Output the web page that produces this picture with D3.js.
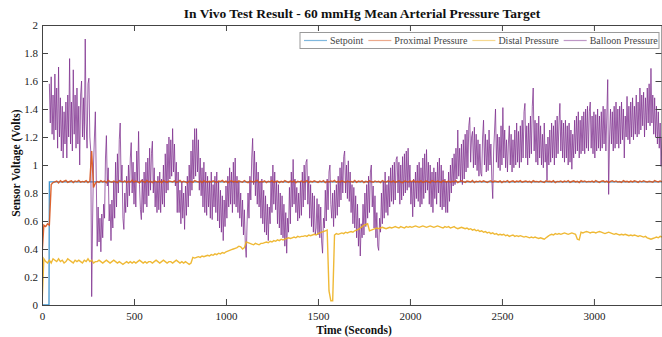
<!DOCTYPE html>
<html>
<head>
<meta charset="utf-8">
<script src="https://cdn.jsdelivr.net/npm/d3@7"></script>
<style>
  body { margin: 0; background: #fff; }
  svg, svg text { font-family: "Liberation Serif", "Times New Roman", serif; }
</style>
</head>
<body>
<div id="chart"></div>
<script>
// sample spacing for the recorded series (seconds)
const timeStep = 10;
const balloonStep = 5;
const balloonStart = 40;

const xTicks = [0, 500, 1000, 1500, 2000, 2500, 3000];
const yTicks = [0, 0.2, 0.4, 0.6, 0.8, 1, 1.2, 1.4, 1.6, 1.8, 2];
const seriesNames = ["Setpoint", "Proximal Pressure", "Distal Pressure", "Balloon Pressure"];

// setpoint steps from 0 to target
const setpointTime = [0, 38, 40, 3370];
const setpointValue = [0, 0, 0.88, 0.88];

const proximal = [
  .35,.57,.56,.58,.57,.86,.875,.88,.885,.872,
  .888,.878,.884,.89,.876,.882,.887,.874,.886,.88,
  .89,.877,.883,.879,.888,.875,.884,1.10,.84,.87,
  .882,.876,.888,.879,.885,.873,.89,.881,.877,.886,
  .88,.874,.889,.883,.878,.887,.875,.884,.879,.891,
  .877,.885,.88,.872,.888,.883,.876,.89,.879,.884,
  .874,.887,.881,.878,.886,.873,.889,.882,.876,.885,
  .883,.879,.887,.875,.882,.89,.877,.884,.88,.873,
  .886,.881,.876,.889,.883,.878,.885,.874,.888,.88,
  .879,.884,.877,.887,.881,.875,.886,.882,.89,.878,
  .885,.873,.883,.888,.879,.884,.876,.887,.881,.877,
  .889,.88,.874,.886,.882,.878,.885,.891,.876,.883,
  .879,.887,.875,.884,.88,.888,.877,.882,.886,.874,
  .883,.878,.889,.881,.876,.885,.879,.887,.873,.884,
  .88,.886,.877,.882,.889,.875,.884,.879,.887,.881,
  .876,.885,.88,.888,.874,.883,.878,.886,.881,.89,
  .877,.884,.879,.887,.882,.875,.886,.88,.883,.878,
  .889,.876,.885,.881,.887,.874,.883,.879,.888,.882,
  .877,.886,.88,.884,.875,.889,.881,.878,.885,.883,
  .879,.887,.876,.882,.888,.88,.874,.886,.883,.878,
  .885,.881,.89,.877,.884,.879,.887,.875,.882,.886,
  .88,.874,.888,.883,.878,.885,.881,.876,.889,.882,
  .879,.886,.877,.884,.88,.888,.875,.883,.887,.881,
  .876,.885,.882,.878,.889,.874,.884,.88,.886,.879,
  .887,.881,.875,.883,.888,.877,.885,.882,.879,.886,
  .874,.884,.88,.889,.876,.883,.887,.878,.885,.881,
  .888,.877,.882,.886,.879,.884,.875,.889,.881,.883,
  .878,.885,.88,.876,.887,.882,.884,.879,.888,.874,
  .883,.881,.886,.877,.885,.88,.889,.876,.882,.887,
  .879,.884,.875,.888,.881,.886,.878,.883,.88,.885,
  .877,.889,.882,.876,.884,.887,.879,.885,.874,.883,
  .888,.88,.886,.878,.882,.875,.889,.881,.884,.877,
  .885,.879,.887,.883,.876,.886,.88,.888,.882,.878,
  .884,.881,.877,.889,.883,.879,.886,.88
];

const distal = [
  0,.33,.31,.30,.32,.30,.33,.32,.31,.33,
  .31,.32,.30,.31,.33,.32,.31,.30,.32,.31,
  .32,.31,.30,.32,.31,.33,.31,.32,.30,.31,
  .31,.32,.31,.30,.31,.32,.31,.30,.31,.32,
  .31,.30,.31,.30,.29,.30,.31,.30,.31,.30,
  .31,.30,.31,.32,.31,.30,.31,.30,.31,.31,
  .30,.31,.32,.31,.30,.31,.32,.31,.30,.31,
  .31,.30,.31,.32,.31,.30,.31,.30,.31,.30,
  .29,.30,.34,.335,.34,.345,.34,.35,.345,.35,
  .355,.35,.36,.355,.365,.36,.37,.365,.375,.37,
  .38,.385,.39,.395,.40,.405,.41,.42,.415,.40,
  .41,.45,.445,.44,.435,.43,.44,.435,.43,.44,
  .44,.445,.45,.445,.455,.45,.46,.455,.465,.46,
  .47,.465,.47,.475,.48,.475,.48,.485,.48,.49,
  .485,.49,.49,.495,.49,.50,.495,.50,.505,.50,
  .51,.515,.52,.525,.53,.535,.10,.03,.03,.50,
  .51,.505,.51,.515,.51,.52,.515,.52,.525,.52,
  .53,.535,.54,.55,.56,.57,.575,.58,.53,.535,
  .54,.545,.55,.545,.55,.555,.55,.545,.55,.555,
  .55,.555,.56,.555,.55,.56,.555,.55,.56,.555,
  .56,.555,.56,.565,.56,.555,.56,.565,.56,.555,
  .56,.565,.56,.555,.56,.565,.56,.555,.55,.56,
  .555,.56,.55,.555,.56,.55,.545,.55,.555,.55,
  .545,.55,.54,.545,.535,.54,.53,.535,.525,.53,
  .52,.525,.515,.52,.51,.515,.505,.51,.50,.505,
  .50,.505,.495,.50,.49,.495,.50,.49,.495,.49,
  .495,.49,.485,.49,.485,.48,.485,.48,.485,.48,
  .475,.48,.475,.47,.48,.49,.50,.505,.50,.51,
  .505,.51,.505,.51,.515,.51,.505,.51,.515,.51,
  .505,.47,.465,.52,.515,.52,.525,.52,.515,.52,
  .52,.515,.52,.525,.52,.515,.51,.515,.52,.515,
  .51,.505,.51,.505,.50,.505,.50,.505,.50,.495,
  .50,.495,.50,.495,.49,.495,.49,.485,.49,.48,
  .475,.47,.475,.48,.485,.48,.49,.485
];

// balloon pressure every 5 s, starting at balloonStart (one row = 100 s)
const balloon = [
  1.58,1.30,1.63,1.22,1.50,1.18,1.65,1.25,1.55,1.12,1.70,1.20,1.48,1.10,1.42,1.05,1.38,1.15,1.45,1.05,
  1.50,1.20,1.76,1.15,1.45,1.10,1.68,1.22,1.50,1.12,1.55,1.15,1.42,1.00,1.50,1.60,1.20,1.48,1.18,1.90,
  1.30,1.12,1.58,1.62,1.20,1.10,0.06,0.60,1.00,1.20,1.38,0.90,0.42,0.70,0.45,0.62,0.38,0.65,0.48,0.72,
  0.62,1.05,1.21,0.85,0.98,0.60,0.72,0.46,0.75,0.55,0.88,0.62,1.02,0.70,1.08,0.80,1.18,1.30,0.88,1.00,
  0.62,0.54,0.80,0.66,0.92,0.70,1.00,0.78,1.05,1.16,0.80,1.02,0.72,0.95,0.70,1.10,0.88,1.24,0.86,0.68,
  0.61,0.90,0.66,0.95,0.72,1.02,0.70,1.05,0.78,1.12,0.82,1.08,1.17,0.80,0.98,0.70,0.88,0.66,0.92,0.68,
  0.95,0.66,0.90,0.72,1.00,0.70,1.08,0.80,1.15,0.82,1.20,0.90,1.18,0.92,1.26,0.95,1.15,0.85,1.02,0.66,
  0.95,0.66,0.82,0.58,0.88,0.62,0.80,0.54,0.85,0.64,0.92,0.70,1.00,0.78,1.10,0.82,1.18,0.90,1.26,0.92,
  1.26,0.95,1.18,0.82,1.05,0.78,0.98,0.70,1.02,0.66,0.95,0.64,0.92,0.70,0.88,0.62,0.95,0.61,0.86,0.70,
  0.92,0.66,0.95,0.60,0.88,0.55,0.82,0.52,0.78,0.46,0.75,0.56,0.85,0.62,0.92,0.70,0.98,0.72,0.95,0.66,
  1.02,0.72,1.05,0.70,0.92,0.66,0.88,0.62,0.80,0.56,0.75,0.50,0.68,0.44,0.34,0.60,0.80,0.62,0.92,0.75,
  1.05,1.19,0.86,1.10,0.78,1.02,0.72,0.95,0.70,0.88,0.62,0.90,0.58,0.82,0.52,0.78,0.50,0.72,0.46,0.70,
  0.58,0.92,0.66,1.00,0.72,0.95,0.68,0.88,0.58,0.86,0.55,0.80,0.50,0.78,0.48,0.72,0.42,0.66,0.37,0.62,
  0.52,0.84,0.58,0.95,0.70,1.04,0.72,0.90,0.66,0.84,0.60,0.80,0.62,0.88,0.64,0.95,0.70,1.00,0.75,1.02,
  1.04,0.72,0.92,0.62,0.86,0.56,0.80,0.52,0.78,0.50,0.55,0.76,0.50,0.72,0.48,0.70,0.45,0.37,0.62,0.55,
  0.82,0.60,0.90,0.68,0.95,1.00,0.72,0.62,0.80,0.56,0.82,0.62,0.86,0.64,0.92,0.70,0.98,0.75,1.02,0.80,
  1.06,1.10,0.80,1.00,0.76,1.03,0.74,0.95,0.66,0.86,0.58,0.84,0.55,0.78,0.48,0.72,0.42,0.62,0.35,0.58,
  0.48,0.72,0.50,0.80,0.56,0.86,0.62,0.92,0.66,0.95,1.00,0.70,0.85,0.55,0.78,0.48,0.66,0.42,0.39,0.62,
  0.52,0.80,0.58,0.88,0.62,0.95,0.66,0.86,0.64,0.92,0.70,0.98,0.74,1.00,0.72,1.02,0.75,1.04,1.06,0.80,
  1.02,0.72,1.00,0.75,1.06,0.78,1.08,0.80,1.10,0.82,1.12,0.84,1.00,0.72,0.88,0.63,0.90,0.70,0.95,0.76,
  1.00,0.74,1.02,0.70,0.98,0.72,1.05,0.76,1.08,0.80,1.11,0.82,1.02,0.72,1.00,0.70,0.95,0.66,0.98,0.76,
  0.95,0.72,1.02,0.80,1.05,0.70,1.00,0.68,0.96,0.70,0.90,0.66,0.88,0.66,0.95,0.74,1.00,0.80,1.05,0.85,
  1.08,0.86,1.12,0.90,1.25,0.92,1.12,0.88,1.15,0.86,1.18,0.90,1.22,0.95,1.25,0.98,1.28,1.34,1.02,1.20,
  1.24,0.98,1.27,1.00,1.22,0.96,1.18,0.92,1.15,0.94,0.92,1.20,1.32,1.00,1.22,0.95,1.18,0.96,1.25,1.00,
  1.15,0.90,0.76,1.10,1.25,1.40,1.02,1.22,0.98,1.20,0.96,1.28,1.00,1.41,1.05,1.25,0.98,1.18,0.95,1.15,
  1.28,1.00,1.22,0.95,1.18,0.98,1.25,1.00,1.30,1.02,1.24,0.98,1.28,1.02,1.32,1.05,1.38,1.44,1.05,1.28,
  1.00,1.30,1.05,1.35,1.08,1.42,1.55,1.10,1.32,1.02,1.30,1.00,1.35,1.05,1.28,1.00,1.22,0.98,1.30,1.02,
  1.15,0.89,1.20,1.00,1.25,1.02,1.30,1.05,1.28,1.00,1.32,1.05,1.35,1.08,1.30,1.44,1.10,1.32,1.05,1.30,
  1.02,1.32,1.05,1.28,1.00,1.30,1.02,1.25,0.97,1.22,1.05,1.32,1.08,1.35,1.10,1.38,1.05,1.32,1.08,1.35,
  1.10,1.38,1.08,1.40,1.12,1.42,1.10,1.38,1.45,1.12,1.35,1.08,1.38,1.05,1.36,1.10,1.40,1.12,1.35,1.10,
  1.38,1.12,1.42,1.15,1.40,1.10,1.35,1.61,0.79,1.20,1.40,1.15,1.38,1.10,1.42,1.12,1.45,1.15,1.40,1.12,
  1.42,1.15,1.45,1.18,1.40,1.05,1.35,1.20,1.49,1.18,1.42,1.15,1.45,1.20,1.48,1.18,1.42,1.22,1.50,1.20,
  1.45,1.22,1.55,1.25,1.50,1.28,1.52,1.20,1.48,1.25,1.55,1.30,1.58,1.28,1.69,1.30,1.50,1.22,1.48,1.20,
  1.42,1.15,1.38,1.12,1.30,0.99,1.20
];

const colors = ["#0072BD", "#D95319", "#EDB120", "#7E2F8E"];
const sFont = '"Liberation Serif", "Times New Roman", serif';

const iWidth = 662, iHeight = 337;
const oMargin = { top: 25, right: 0, bottom: 32, left: 42 };
const iInnerW = iWidth - oMargin.left - oMargin.right;
const iInnerH = iHeight - oMargin.top - oMargin.bottom;

const xScale = d3.scaleLinear().domain([0, 3370]).range([0, iInnerW]);
const yScale = d3.scaleLinear().domain([0, 2]).range([iInnerH, 0]);

const svg = d3.select("#chart").append("svg")
  .attr("width", iWidth)
  .attr("height", iHeight);

// title
svg.append("text")
  .attr("x", 362).attr("y", 18)
  .attr("text-anchor", "middle")
  .attr("font-family", sFont)
  .attr("font-weight", "bold")
  .attr("font-size", "13.5px")
  .attr("fill", "#111")
  .text("In Vivo Test Result - 60 mmHg Mean Arterial Pressure Target");

const g = svg.append("g").attr("transform", `translate(${oMargin.left},${oMargin.top})`);

g.append("clipPath").attr("id", "clip")
  .append("rect").attr("x", 0).attr("y", -2).attr("width", iInnerW).attr("height", iInnerH + 4);

const line = d3.line().x(d => xScale(d[0])).y(d => yScale(d[1]));
const toPoints = (aValues, iStart, iStep) => aValues.map((v, i) => [iStart + i * iStep, v]);

const plot = g.append("g").attr("clip-path", "url(#clip)");

plot.append("path")
  .datum(setpointTime.map((t, i) => [t, setpointValue[i]]))
  .attr("fill", "none").attr("stroke", colors[0]).attr("stroke-width", 1.3).attr("stroke-opacity", 0.75)
  .attr("d", line);

plot.append("path")
  .datum(toPoints(balloon, balloonStart, balloonStep))
  .attr("fill", "none").attr("stroke", colors[3]).attr("stroke-width", 0.9).attr("stroke-opacity", 0.85)
  .attr("d", line);

plot.append("path")
  .datum(toPoints(distal, 0, timeStep))
  .attr("fill", "none").attr("stroke", colors[2]).attr("stroke-width", 1.4).attr("stroke-opacity", 0.9)
  .attr("d", line);

plot.append("path")
  .datum(toPoints(proximal, 0, timeStep))
  .attr("fill", "none").attr("stroke", colors[1]).attr("stroke-width", 1.4).attr("stroke-opacity", 0.9)
  .attr("d", line);

// axes, ticks pointing inward like MATLAB
const axisColor = "#444";
const styleAxis = sel => {
  sel.attr("font-family", sFont);
  sel.select(".domain").attr("stroke", axisColor);
  sel.selectAll(".tick line").attr("stroke", axisColor);
  sel.selectAll("text").attr("font-family", sFont).attr("font-size", "11px").attr("fill", "#222");
};

g.append("g").attr("transform", `translate(0,${iInnerH})`)
  .call(d3.axisBottom(xScale).tickValues(xTicks).tickSize(-6).tickSizeOuter(0).tickPadding(7).tickFormat(d3.format("d")))
  .call(styleAxis);
g.append("g")
  .call(d3.axisTop(xScale).tickValues(xTicks).tickSize(-6).tickSizeOuter(0).tickFormat(""))
  .call(styleAxis);
g.append("g")
  .call(d3.axisLeft(yScale).tickValues(yTicks).tickSize(-6).tickSizeOuter(0).tickPadding(4).tickFormat(d => String(+d.toFixed(1))))
  .call(styleAxis);
g.append("g").attr("transform", `translate(${iInnerW - 0.5},0)`)
  .call(d3.axisRight(yScale).tickValues(yTicks).tickSize(-6).tickSizeOuter(0).tickFormat(""))
  .call(styleAxis);

// axis labels
svg.append("text")
  .attr("x", 354).attr("y", 334)
  .attr("text-anchor", "middle").attr("font-family", sFont).attr("font-weight", "bold").attr("font-size", "11.5px").attr("fill", "#111")
  .text("Time (Seconds)");
svg.append("text")
  .attr("transform", "translate(20,163) rotate(-90)")
  .attr("text-anchor", "middle").attr("font-family", sFont).attr("font-weight", "bold").attr("font-size", "11.5px").attr("fill", "#111")
  .text("Sensor Voltage (Volts)");

// legend
const legend = svg.append("g");
legend.append("rect")
  .attr("x", 300).attr("y", 32.5).attr("width", 359).attr("height", 16)
  .attr("fill", "#fff").attr("stroke", "#999").attr("stroke-width", 1);
let xPos = 304;
seriesNames.forEach((name, i) => {
  legend.append("line")
    .attr("x1", xPos).attr("x2", xPos + 23).attr("y1", 40.5).attr("y2", 40.5)
    .attr("stroke", colors[i]).attr("stroke-opacity", 0.5).attr("stroke-width", 1.2);
  const t = legend.append("text")
    .attr("x", xPos + 26).attr("y", 44)
    .attr("font-family", sFont)
    .attr("font-size", "10px").attr("fill", "#444")
    .text(name);
  xPos += 26 + t.node().getComputedTextLength() + 5;
});
</script>
</body>
</html>
